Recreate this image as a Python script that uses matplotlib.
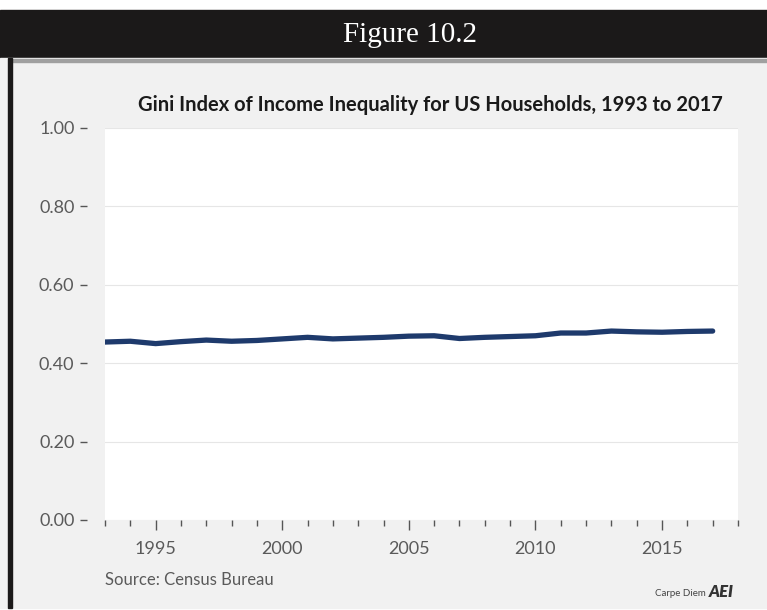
import matplotlib
matplotlib.use('Agg')
import matplotlib.pyplot as plt
from matplotlib.patches import Rectangle
from matplotlib.ticker import MultipleLocator, FormatStrFormatter

years = list(range(1993, 2018))
gini = [0.454, 0.456, 0.450, 0.455, 0.459, 0.456, 0.458, 0.462, 0.466, 0.462,
        0.464, 0.466, 0.469, 0.470, 0.463, 0.466, 0.468, 0.470, 0.477, 0.477,
        0.482, 0.480, 0.479, 0.481, 0.482]
major_years = [1995, 2000, 2005, 2010, 2015]
y_ticks = [0.0, 0.2, 0.4, 0.6, 0.8, 1.0]

W, H = 767, 610
fig = plt.figure(figsize=(W / 100, H / 100), dpi=100)
fig.patch.set_facecolor('white')

# frame: black header band, grey panel, black left border
def px_rect(x0, y0, x1, y1, color):
    fig.patches.append(Rectangle((x0 / W, 1 - y1 / H), (x1 - x0) / W, (y1 - y0) / H,
                                 transform=fig.transFigure, color=color, zorder=-5))

px_rect(0, 10, W, 58, '#1b1919')
px_rect(0, 58, W, 608, '#f1f1f1')
px_rect(12, 59, W, 61.5, '#a0a0a0')
px_rect(8, 58, 12, 608, '#1b1919')

fig.text(410 / W, 1 - 35 / H, 'Figure 10.2', color='white', ha='center', va='center',
         fontsize=21, family='Liberation Serif')

ax = fig.add_axes([105 / W, 1 - 520 / H, (738 - 105) / W, (520 - 128) / H])
ax.set_zorder(2)
ax.set_facecolor('white')
ax.plot(years, gini, color='#1e3a6c', lw=3.8, solid_capstyle='round', zorder=3)

ax.set_xlim(1993, 2018)
ax.set_ylim(0, 1.0)
ax.set_yticks(y_ticks)
ax.yaxis.set_major_formatter(FormatStrFormatter('%.2f'))
ax.set_xticks(major_years)
ax.xaxis.set_minor_locator(MultipleLocator(1))
ax.grid(axis='y', color='#e6e6e6', lw=0.8)
ax.set_axisbelow(True)

for s in ax.spines.values():
    s.set_visible(False)
ax.spines['left'].set_position(('outward', 13))

ax.tick_params(axis='y', length=5, width=1, color='#555555', pad=4,
               labelsize=13, labelcolor='#5a5a5a')
ax.tick_params(axis='x', which='major', length=7, width=1, color='#555555', pad=8,
               labelsize=13, labelcolor='#5a5a5a')
ax.tick_params(axis='x', which='minor', length=4, width=1, color='#555555')
for lab in ax.get_xticklabels() + ax.get_yticklabels():
    lab.set_family('Lato')

fig.text(430 / W, 1 - 105 / H,
         'Gini Index of Income Inequality for US Households, 1993 to 2017',
         ha='center', va='center', fontsize=14.5, fontweight='bold',
         family='Lato', color='#1a1a1a')

fig.text(105 / W, 1 - 580 / H, 'Source: Census Bureau', ha='left', va='center',
         fontsize=12, family='Lato', color='#5a5a5a')
fig.text(706 / W, 1 - 594 / H, 'Carpe Diem', ha='right', va='center',
         fontsize=7, family='Lato', color='#444444')
fig.text(709 / W, 1 - 592 / H, 'AEI', ha='left', va='center', fontsize=12,
         fontweight='heavy', style='italic', family='Lato', color='#333333')

fig.savefig('out.png', dpi=100)
